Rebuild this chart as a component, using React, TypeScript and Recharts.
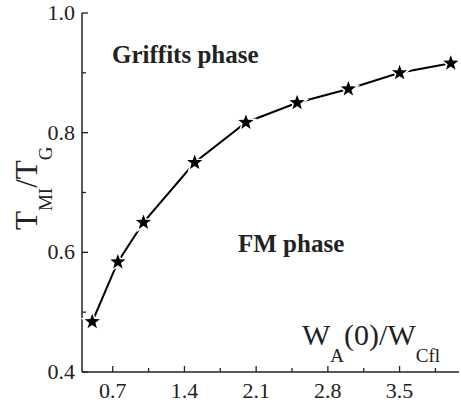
import React from 'react'
import { LineChart, Line, XAxis, YAxis } from 'recharts'

const ratio = [0.5, 0.75, 1.0, 1.5, 2.0, 2.5, 3.0, 3.5, 4.0]
const tRatio = [0.484, 0.584, 0.65, 0.75, 0.817, 0.85, 0.873, 0.9, 0.916]

const xMajor = [0.7, 1.4, 2.1, 2.8, 3.5]
const xMinor = [1.05, 1.75, 2.45, 3.15, 3.85]
const yMajor = [0.4, 0.6, 0.8, 1.0]
const yMinor = [0.5, 0.7, 0.9]

const data = ratio.map((r, i) => ({ r, t: tRatio[i] }))
const xTicks = [...xMajor, ...xMinor].sort((a, b) => a - b)
const yTicks = [...yMajor, ...yMinor].sort((a, b) => a - b)

const FONT = "'Liberation Serif', 'Times New Roman', serif"
const INK = '#222'

const BottomTick = ({ x, y, payload }: any) => {
  const major = xMajor.includes(payload.value)
  return (
    <g>
      <line x1={x} y1={y} x2={x} y2={y - (major ? 6 : 4)} stroke={INK} strokeWidth={1.3} />
      {major && (
        <text x={x} y={y + 26} textAnchor="middle" fontSize={22} fontFamily={FONT} fill={INK}>
          {payload.value.toFixed(1)}
        </text>
      )}
    </g>
  )
}

const TopTick = ({ x, y, payload }: any) => {
  const major = xMajor.includes(payload.value)
  return <line x1={x} y1={y} x2={x} y2={y + (major ? 6 : 4)} stroke={INK} strokeWidth={1.3} />
}

const LeftTick = ({ x, y, payload }: any) => {
  const major = yMajor.includes(payload.value)
  return (
    <g>
      <line x1={x} y1={y} x2={x + (major ? 6 : 4)} y2={y} stroke={INK} strokeWidth={1.3} />
      {major && (
        <text x={x - 7} y={y + 7} textAnchor="end" fontSize={22} fontFamily={FONT} fill={INK}>
          {payload.value.toFixed(1)}
        </text>
      )}
    </g>
  )
}

const RightTick = ({ x, y, payload }: any) => {
  const major = yMajor.includes(payload.value)
  return <line x1={x} y1={y} x2={x - (major ? 6 : 4)} y2={y} stroke={INK} strokeWidth={1.3} />
}

// filled five point star, white halo gives the gap in the line
const Star = ({ cx, cy }: any) => {
  if (cx == null || cy == null) return null
  const pts: string[] = []
  for (let k = 0; k < 10; k++) {
    const rad = k % 2 === 0 ? 8 : 3.3
    const a = -Math.PI / 2 + (k * Math.PI) / 5
    pts.push(`${cx + rad * Math.cos(a)},${cy + rad * Math.sin(a)}`)
  }
  return <polygon points={pts.join(' ')} fill="#000" stroke="#fff" strokeWidth={3} paintOrder="stroke" />
}

const axisLine = { stroke: INK, strokeWidth: 1.5 }

export default function App() {
  return (
    <div style={{ position: 'absolute', left: 0, top: 0 }}>
      <LineChart width={461} height={407} data={data} margin={{ top: 13, right: 2, bottom: 0, left: 0 }}>
        <XAxis
          xAxisId="b"
          dataKey="r"
          type="number"
          domain={[0.4, 4.08]}
          ticks={xTicks}
          interval={0}
          height={35}
          tickSize={0}
          tickMargin={0}
          tickLine={false}
          axisLine={axisLine}
          tick={<BottomTick />}
        />
        <XAxis
          xAxisId="t"
          orientation="top"
          dataKey="r"
          type="number"
          domain={[0.4, 4.08]}
          ticks={xTicks}
          interval={0}
          height={0}
          tickSize={0}
          tickMargin={0}
          tickLine={false}
          axisLine={axisLine}
          tick={<TopTick />}
        />
        <YAxis
          yAxisId="l"
          type="number"
          domain={[0.4, 1.0]}
          ticks={yTicks}
          interval={0}
          width={82}
          tickSize={0}
          tickMargin={0}
          tickLine={false}
          axisLine={axisLine}
          tick={<LeftTick />}
        />
        <YAxis
          yAxisId="r"
          orientation="right"
          type="number"
          domain={[0.4, 1.0]}
          ticks={yTicks}
          interval={0}
          width={0}
          tickSize={0}
          tickMargin={0}
          tickLine={false}
          axisLine={axisLine}
          tick={<RightTick />}
        />
        <Line
          xAxisId="b"
          yAxisId="l"
          type="linear"
          dataKey="t"
          stroke="#000"
          strokeWidth={2}
          dot={(p: any) => <Star key={`s-${p.index}`} cx={p.cx} cy={p.cy} />}
          activeDot={false}
          isAnimationActive={false}
        />
        <text x={112} y={63} fontSize={25} fontWeight="bold" fontFamily={FONT} fill={INK}>
          Griffits phase
        </text>
        <text x={238} y={252} fontSize={25} fontWeight="bold" fontFamily={FONT} fill={INK}>
          FM phase
        </text>
        <text x={302} y={345} fontSize={30} fontFamily={FONT} fill={INK}>
          W<tspan fontSize={19} dy={17}>A</tspan>
          <tspan dy={-17}>(0)/W</tspan>
          <tspan fontSize={19} dy={17}>Cfl</tspan>
        </text>
        <text transform="rotate(-90)" x={-230} y={37} fontSize={31} fontFamily={FONT} fill={INK}>
          T<tspan fontSize={19} dy={15}>MI</tspan>
          <tspan dy={-15}>/T</tspan>
          <tspan fontSize={19} dy={15}>G</tspan>
        </text>
      </LineChart>
    </div>
  )
}
